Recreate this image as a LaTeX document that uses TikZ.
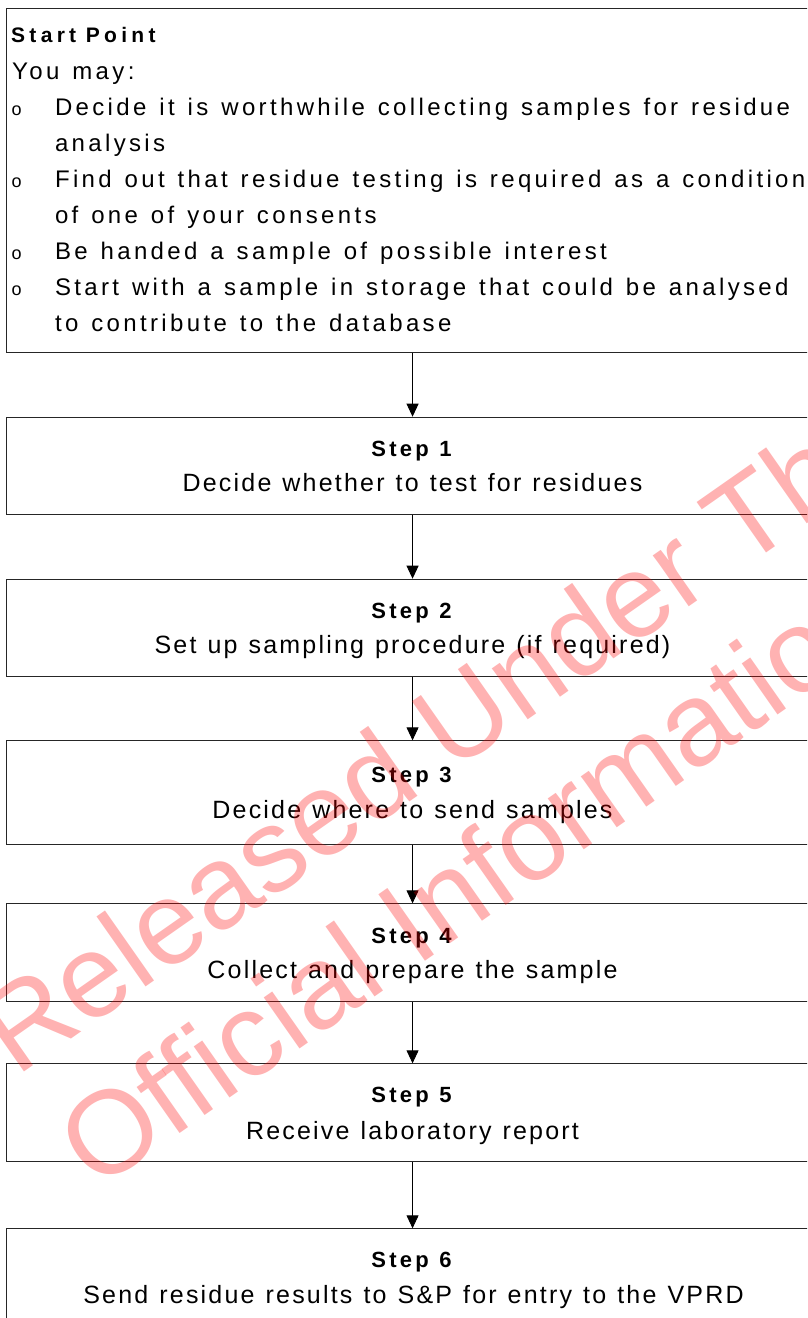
\documentclass[tikz,border=0pt]{standalone}
\usepackage{fontspec}
\setmainfont{Liberation Sans}
\usetikzlibrary{arrows.meta}
\newfontfamily\startbodyfont[LetterSpace=14,WordSpace=1.29]{Liberation Sans}
\newfontfamily\starttitlefont[LetterSpace=20.5,WordSpace=0.95]{Liberation Sans}
\newfontfamily\steptitlefont[LetterSpace=15,WordSpace=1.11]{Liberation Sans}
\newfontfamily\stepbodyfont[LetterSpace=8.8,WordSpace=1.21]{Liberation Sans}
\newfontfamily\wmfont{Liberation Sans}
\tikzset{
  box/.style={draw=black!85, line width=1.1pt, rectangle, inner sep=0pt,
    minimum width=812pt, anchor=north west},
  sttitle/.style={inner sep=0pt, anchor=base west,
    font=\starttitlefont\bfseries\fontsize{21}{24}\selectfont},
  stbody/.style={inner sep=0pt, anchor=base west,
    font=\startbodyfont\fontsize{24}{27}\selectfont},
  bul/.style={inner sep=0pt, anchor=base west,
    font=\wmfont\fontsize{18}{20}\selectfont},
  steptitle/.style={inner sep=0pt, anchor=base,
    font=\steptitlefont\bfseries\fontsize{22}{24}\selectfont},
  stepbody/.style={inner sep=0pt, anchor=base,
    font=\stepbodyfont\fontsize{25}{28}\selectfont},
  conn/.style={draw=black, line width=0.9pt, -{Triangle[length=13pt,width=12pt]}},
  wmark/.style={inner sep=0pt, anchor=base west, rotate=35, text=red,
    text opacity=0.3, font=\wmfont\fontsize{118}{120}\selectfont}
}
\begin{document}
\begin{tikzpicture}[x=1pt,y=-1pt]
\useasboundingbox[fill=white] (0,0) rectangle (807,1318);
\clip (0,0) rectangle (807,1318);

% boxes
\node[box, minimum height=344pt] (start) at (6,7.5) {};
\node[box, minimum height=97pt] (s1) at (6,416.7) {};
\node[box, minimum height=97pt] (s2) at (6,578.7) {};
\node[box, minimum height=103.4pt] (s3) at (6,740.3) {};
\node[box, minimum height=97.7pt] (s4) at (6,903.3) {};
\node[box, minimum height=97.7pt] (s5) at (6,1063.3) {};
\node[box, minimum height=110pt] (s6) at (6,1228.3) {};

% start point text
\node[sttitle] (t0) at (11,42) {Start Point};
\node[stbody] (t1) at (12,79.3) {You may:};
\node[bul] (b1) at (11.5,115.4) {o};
\node[stbody] (t2) at (54.8,115.4) {Decide it is worthwhile collecting samples for residue};
\node[stbody] (t3) at (54.8,151.4) {analysis};
\node[bul] (b2) at (11.5,187.5) {o};
\node[stbody] (t4) at (54.8,187.5) {Find out that residue testing is required as a condition};
\node[stbody] (t5) at (54.8,223.5) {of one of your consents};
\node[bul] (b3) at (11.5,259.6) {o};
\node[stbody] (t6) at (54.8,259.6) {Be handed a sample of possible interest};
\node[bul] (b4) at (11.5,295.7) {o};
\node[stbody] (t7) at (54.8,295.7) {Start with a sample in storage that could be analysed};
\node[stbody] (t8) at (54.8,331.7) {to contribute to the database};

% step texts
\node[steptitle] (h1) at (411.5,456.2) {Step 1};
\node[stepbody] (d1) at (412.5,491.7) {Decide whether to test for residues};
\node[steptitle] (h2) at (411.5,618.3) {Step 2};
\node[stepbody] (d2) at (412.5,653.5) {Set up sampling procedure (if required)};
\node[steptitle] (h3) at (411.5,782.7) {Step 3};
\node[stepbody] (d3) at (412.5,818.3) {Decide where to send samples};
\node[steptitle] (h4) at (411.5,943.3) {Step 4};
\node[stepbody] (d4) at (412.5,978.3) {Collect and prepare the sample};
\node[steptitle] (h5) at (411.5,1102.7) {Step 5};
\node[stepbody] (d5) at (412.5,1139.5) {Receive laboratory report};
\node[steptitle] (h6) at (411.5,1267.3) {Step 6};
\node[stepbody] (d6) at (413.5,1303.3) {Send residue results to S\&P for entry to the VPRD};

% connectors
\draw[conn] (start.south) -- (s1.north);
\draw[conn] (s1.south) -- (s2.north);
\draw[conn] (s2.south) -- (s3.north);
\draw[conn] (s3.south) -- (s4.north);
\draw[conn] (s4.south) -- (s5.north);
\draw[conn] (s5.south) -- (s6.north);

% watermark
\node[wmark] (w1) at (16,1078) {Released Under The};
\node[wmark] (w2) at (96,1192) {Official Information};
\end{tikzpicture}
\end{document}
